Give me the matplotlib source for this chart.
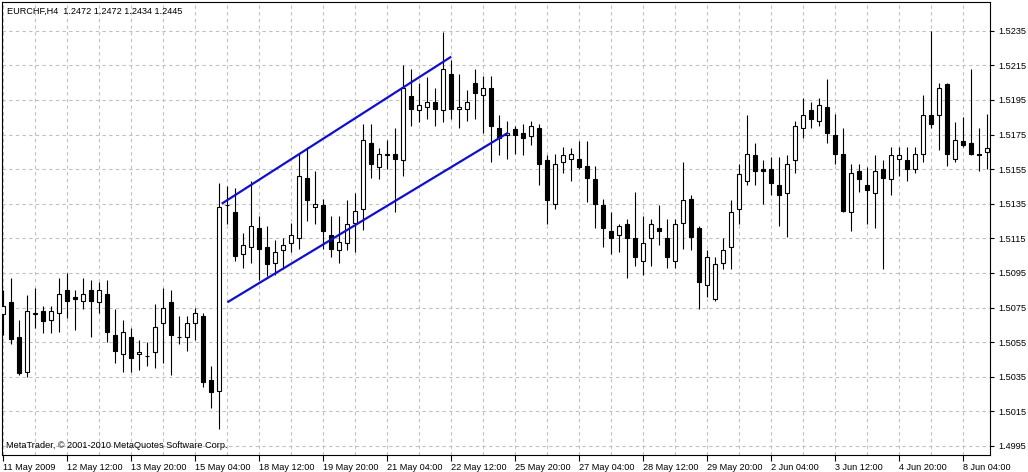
import matplotlib.pyplot as plt
import numpy as np

# === DATA: EURCHF H4 candles (bar index 0 = first visible bar) ===
opens = [1.5071, 1.5078, 1.5058, 1.5038, 1.5071, 1.5073, 1.5068, 1.5072, 1.5085, 1.5081,
         1.5079, 1.5085, 1.5078, 1.5083, 1.5059, 1.5048, 1.5058, 1.5048, 1.5047, 1.5049,
         1.5066, 1.5078, 1.5058, 1.5058, 1.5066, 1.5070, 1.5033, 1.5027, 1.5134, 1.5130,
         1.5106, 1.5110, 1.5121, 1.5110, 1.5101, 1.5108, 1.5112, 1.5115, 1.5150, 1.5133,
         1.5134, 1.5117, 1.5108, 1.5112, 1.5124, 1.5132, 1.5170, 1.5156, 1.5163, 1.5164,
         1.5160, 1.5197, 1.5189, 1.5191, 1.5194, 1.5189, 1.5210, 1.5190, 1.5190, 1.5205,
         1.5198, 1.5202, 1.5179, 1.5175, 1.5178, 1.5176, 1.5174, 1.5179, 1.5160, 1.5135,
         1.5159, 1.5161, 1.5161, 1.5157, 1.5149, 1.5134, 1.5119, 1.5117, 1.5123, 1.5115,
         1.5102, 1.5115, 1.5121, 1.5115, 1.5102, 1.5124, 1.5138, 1.5121, 1.5088, 1.5080,
         1.5101, 1.5110, 1.5132, 1.5148, 1.5163, 1.5155, 1.5155, 1.5146, 1.5141, 1.5160,
         1.5179, 1.5189, 1.5183, 1.5191, 1.5175, 1.5164, 1.5130, 1.5154, 1.5146, 1.5141,
         1.5155, 1.5149, 1.5161, 1.5160, 1.5155, 1.5164, 1.5186, 1.5186, 1.5204, 1.5161,
         1.5171, 1.5170, 1.5164, 1.5165]
highs = [1.5085, 1.5092, 1.5068, 1.5082, 1.5086, 1.5076, 1.5076, 1.5092, 1.5095, 1.5085,
         1.5092, 1.5091, 1.5090, 1.5091, 1.5074, 1.5068, 1.5063, 1.5056, 1.5055, 1.5077,
         1.5086, 1.5085, 1.5070, 1.5070, 1.5075, 1.5072, 1.5041, 1.5147, 1.5145, 1.5144,
         1.5118, 1.5148, 1.5128, 1.5122, 1.5114, 1.5115, 1.5124, 1.5164, 1.5168, 1.5154,
         1.5138, 1.5128, 1.5128, 1.5137, 1.5141, 1.5181, 1.5181, 1.5167, 1.5172, 1.5179,
         1.5215, 1.5213, 1.5205, 1.5208, 1.5202, 1.5234, 1.5218, 1.5210, 1.5201, 1.5213,
         1.5209, 1.5209, 1.5186, 1.5183, 1.5180, 1.5181, 1.5183, 1.5181, 1.5163, 1.5164,
         1.5168, 1.5167, 1.5171, 1.5171, 1.5157, 1.5138, 1.5130, 1.5123, 1.5126, 1.5142,
         1.5128, 1.5126, 1.5134, 1.5126, 1.5126, 1.5159, 1.5140, 1.5122, 1.5108, 1.5104,
         1.5115, 1.5137, 1.5158, 1.5186, 1.5170, 1.5160, 1.5162, 1.5162, 1.5163, 1.5183,
         1.5196, 1.5194, 1.5196, 1.5207, 1.5187, 1.5179, 1.5158, 1.5158, 1.5156, 1.5163,
         1.5160, 1.5168, 1.5168, 1.5168, 1.5168, 1.5198, 1.5235, 1.5205, 1.5205, 1.5182,
         1.5185, 1.5213, 1.5179, 1.5187]
lows = [1.5059, 1.5054, 1.5036, 1.5035, 1.5063, 1.5060, 1.5060, 1.5061, 1.5069, 1.5062,
        1.5074, 1.5058, 1.5072, 1.5055, 1.5043, 1.5038, 1.5038, 1.5039, 1.5041, 1.5040,
        1.5043, 1.5036, 1.5054, 1.5050, 1.5056, 1.5029, 1.5017, 1.5005, 1.5123, 1.5102,
        1.5098, 1.5101, 1.5091, 1.5093, 1.5094, 1.5097, 1.5107, 1.5109, 1.5125, 1.5123,
        1.5109, 1.5104, 1.5101, 1.5108, 1.5107, 1.5120, 1.5150, 1.5149, 1.5155, 1.5130,
        1.5151, 1.5180, 1.5182, 1.5184, 1.5180, 1.5182, 1.5184, 1.5179, 1.5183, 1.5184,
        1.5176, 1.5159, 1.5163, 1.5161, 1.5164, 1.5163, 1.5169, 1.5146, 1.5123, 1.5132,
        1.5153, 1.5148, 1.5155, 1.5136, 1.5121, 1.5110, 1.5106, 1.5107, 1.5092, 1.5099,
        1.5094, 1.5099, 1.5111, 1.5098, 1.5098, 1.5109, 1.5108, 1.5074, 1.5081, 1.5079,
        1.5097, 1.5097, 1.5123, 1.5146, 1.5146, 1.5135, 1.5140, 1.5122, 1.5116, 1.5153,
        1.5173, 1.5179, 1.5180, 1.5170, 1.5158, 1.5130, 1.5119, 1.5142, 1.5123, 1.5121,
        1.5097, 1.5140, 1.5151, 1.5148, 1.5153, 1.5159, 1.5179, 1.5166, 1.5157, 1.5159,
        1.5168, 1.5163, 1.5154, 1.5155]
closes = [1.5076, 1.5057, 1.5037, 1.5073, 1.5072, 1.5067, 1.5073, 1.5083, 1.5079, 1.5080,
          1.5083, 1.5079, 1.5085, 1.5061, 1.5050, 1.5061, 1.5046, 1.5049, 1.5047, 1.5064,
          1.5075, 1.5059, 1.5058, 1.5066, 1.5072, 1.5032, 1.5026, 1.5133, 1.5134, 1.5105,
          1.5111, 1.5122, 1.5109, 1.5100, 1.5107, 1.5111, 1.5117, 1.5151, 1.5137, 1.5135,
          1.5119, 1.5109, 1.5113, 1.5123, 1.5131, 1.5172, 1.5158, 1.5164, 1.5164, 1.5161,
          1.5202, 1.5190, 1.5192, 1.5194, 1.5190, 1.5213, 1.5190, 1.5191, 1.5194, 1.5199,
          1.5202, 1.5180, 1.5173, 1.5176, 1.5175, 1.5173, 1.5180, 1.5158, 1.5137, 1.5158,
          1.5163, 1.5164, 1.5156, 1.5150, 1.5135, 1.5121, 1.5115, 1.5122, 1.5115, 1.5104,
          1.5112, 1.5123, 1.5119, 1.5104, 1.5123, 1.5137, 1.5116, 1.5090, 1.5104, 1.5100,
          1.5108, 1.5130, 1.5152, 1.5164, 1.5154, 1.5154, 1.5147, 1.5140, 1.5158, 1.5180,
          1.5186, 1.5184, 1.5192, 1.5176, 1.5164, 1.5131, 1.5153, 1.5149, 1.5143, 1.5154,
          1.5150, 1.5163, 1.5163, 1.5155, 1.5164, 1.5186, 1.5181, 1.5202, 1.5164, 1.5172,
          1.5169, 1.5164, 1.5163, 1.5167]

# channel lines (bar index, price)
upper_x = [27.3, 56.0]
upper_y = [1.5135, 1.5220]
lower_x = [28.0, 63.1]
lower_y = [1.5078, 1.5176]

tick_bars = [0, 8, 16, 24, 32, 40, 48, 56, 64, 72, 80, 88, 96, 104, 112, 120]
tick_labels = ["11 May 2009", "12 May 12:00", "13 May 20:00", "15 May 04:00",
               "18 May 12:00", "19 May 20:00", "21 May 04:00", "22 May 12:00",
               "25 May 20:00", "27 May 04:00", "28 May 12:00", "29 May 20:00",
               "2 Jun 04:00", "3 Jun 12:00", "4 Jun 20:00", "8 Jun 04:00"]
price_ticks = [1.4995, 1.5015, 1.5035, 1.5055, 1.5075, 1.5095, 1.5115,
               1.5135, 1.5155, 1.5175, 1.5195, 1.5215, 1.5235]

header = "EURCHF,H4  1.2472 1.2472 1.2434 1.2445"
copyright_text = "MetaTrader, \u00a9 2001-2010 MetaQuotes Software Corp."

# === PLOT ===
plt.rcParams['font.family'] = ['Liberation Sans', 'DejaVu Sans']
W, H = 1028, 472
fig = plt.figure(figsize=(W / 100, H / 100), dpi=100)
ax = fig.add_axes([2 / W, 17 / H, 988 / W, 453 / H])

o = np.array(opens)
c = np.array(closes)
x = np.arange(len(o))
body_colors = ['white' if cc > oo else 'black' for oo, cc in zip(o, c)]

# wicks first, bodies on top (white bodies hide the wick)
ax.vlines(x, lows, highs, color='black', linewidth=0.8, zorder=2)
ax.bar(x, np.abs(c - o), width=0.5, bottom=np.minimum(o, c), color=body_colors,
       edgecolor='black', linewidth=0.8, zorder=3)

ax.plot(upper_x, upper_y, color='#1010cc', linewidth=1.6, solid_capstyle='butt', zorder=4)
ax.plot(lower_x, lower_y, color='#1010cc', linewidth=1.6, solid_capstyle='butt', zorder=4)

ax.set_xlim(-0.1625, 123.34)
ax.set_ylim(1.498975, 1.525159)

ax.yaxis.tick_right()
ax.set_yticks(price_ticks)
ax.set_yticklabels([f"{p:.4f}" for p in price_ticks])
ax.tick_params(axis='y', direction='out', length=3, width=0.8, pad=3, labelsize=6.6)

ax.set_xticks(tick_bars)
ax.set_xticklabels(tick_labels, ha='left')
ax.set_xticks(np.arange(0, 124, 4), minor=True)
ax.tick_params(axis='x', which='major', direction='out', length=4, width=0.8, pad=2, labelsize=6.6)
ax.tick_params(axis='x', which='minor', length=0)

grid_style = dict(color='#c0c0c0', linestyle=(0, (3, 3)), linewidth=0.8)
ax.grid(True, axis='x', which='both', **grid_style)
ax.grid(True, axis='y', which='major', **grid_style)
ax.set_axisbelow(True)

for s in ax.spines.values():
    s.set_linewidth(0.8)
    s.set_color('black')

fig.text(7 / W, 1 - 11 / H, header, fontsize=6.6, ha='left', va='center')
fig.text(6 / W, 1 - 446 / H, copyright_text, fontsize=6.6, ha='left', va='center')

fig.savefig("out.png", dpi=100)
plt.close()
